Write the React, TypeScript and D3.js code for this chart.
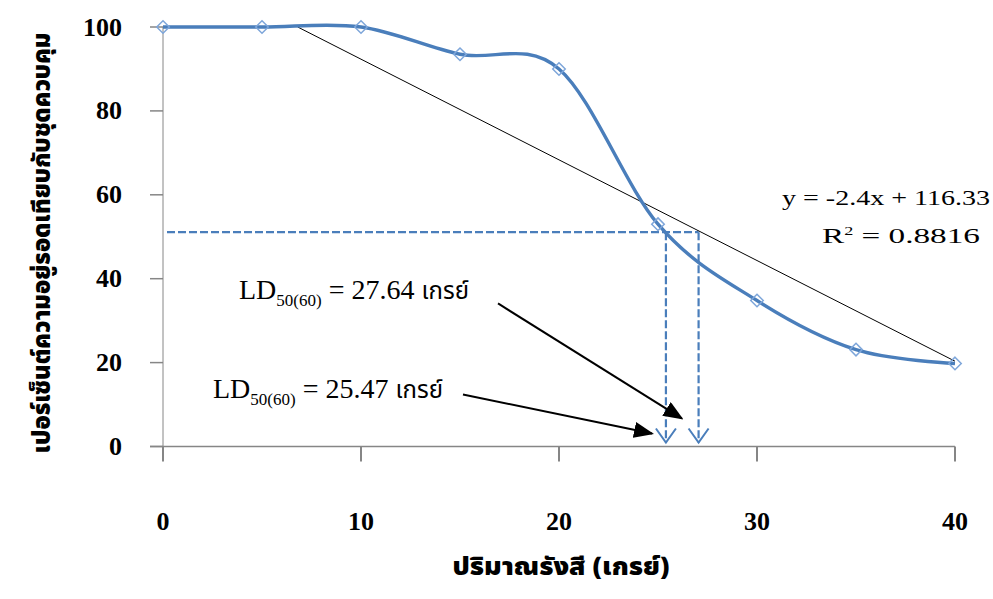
import React from "react";
import * as d3 from "d3";

const doses = [0, 5, 10, 15, 20, 25, 30, 35, 40];
const survival = [100, 100, 100, 93.5, 90, 53, 34.8, 23.1, 19.8];
const xTicks = [0, 10, 20, 30, 40];
const yTicks = [0, 20, 40, 60, 80, 100];
const trendSlope = -2.4;
const trendIntercept = 116.33;
const ld50Level = 51.1;
const ldMarks = [25.4, 27.05];
const eqText = "y = -2.4x + 116.33";
const r2Value = "0.8816";
const ldLabels = ["27.64", "25.47"];
const xTitle = "ปริมาณรังสี (เกรย์)";
const yTitle = "เปอร์เซ็นต์ความอยู่รอดเทียบกับชุดควบคุม";

const W = 993;
const H = 599;
const serif = "'Liberation Serif', 'Times New Roman', serif";
const thai = "'Noto Sans Thai', 'Noto Sans', 'DejaVu Sans', sans-serif";

export default function App() {
  const x = d3.scaleLinear().domain([0, 40]).range([163, 955]);
  const y = d3.scaleLinear().domain([0, 100]).range([446.5, 27]);
  const pts: [number, number][] = doses.map((d, i) => [d, survival[i]]);
  const line = d3
    .line<[number, number]>()
    .x((d) => x(d[0]))
    .y((d) => y(d[1]))
    .curve(d3.curveCardinal.tension(0));

  const trendX0 = (100 - trendIntercept) / trendSlope;
  const trendPts: [number, number][] = [
    [trendX0, 100],
    [40, trendSlope * 40 + trendIntercept],
  ];

  const blue = "#4A7EBB";
  const axisGray = "#868686";

  const arrows = [
    { from: [16.92, 34.1], to: [26.2, 6.7] },
    { from: [15.15, 12.4], to: [24.7, 3.1] },
  ];
  const labelPos = [
    { x: 239, y: 299 },
    { x: 213, y: 398 },
  ];

  const diamond = d3.symbol().type(d3.symbolDiamond2 || d3.symbolDiamond).size(100)();

  return (
    <svg
      width={W}
      height={H}
      style={{ position: "absolute", left: 0, top: 0, background: "#fff" }}
    >
      <defs>
        <marker
          id="blackhead"
          viewBox="0 0 10 8"
          refX="9"
          refY="4"
          markerWidth="10"
          markerHeight="8"
          markerUnits="strokeWidth"
          orient="auto"
        >
          <path d="M0,0 L10,4 L0,8 z" fill="#000" />
        </marker>
      </defs>
      <rect x={0} y={0} width={W} height={H} fill="#fff" />

      {/* axes */}
      <line x1={x(0)} x2={x(0)} y1={y(100)} y2={y(0)} stroke={axisGray} strokeWidth={1} />
      <line x1={150} x2={x(40)} y1={y(0)} y2={y(0)} stroke={axisGray} strokeWidth={1.5} />
      {yTicks.map((t) => (
        <g key={"yt" + t}>
          <line x1={150} x2={x(0)} y1={y(t)} y2={y(t)} stroke={axisGray} strokeWidth={1.5} />
          <text
            x={122}
            y={y(t)}
            dy="0.33em"
            textAnchor="end"
            fontFamily={serif}
            fontWeight="bold"
            fontSize={26}
            fill="#000"
          >
            {t}
          </text>
        </g>
      ))}
      {xTicks.map((t) => (
        <g key={"xt" + t}>
          <line x1={x(t)} x2={x(t)} y1={y(0)} y2={y(0) + 15} stroke={axisGray} strokeWidth={2} />
          <text
            x={x(t)}
            y={530}
            textAnchor="middle"
            fontFamily={serif}
            fontWeight="bold"
            fontSize={26}
            fill="#000"
          >
            {t}
          </text>
        </g>
      ))}

      {/* dashed guide lines */}
      <line
        x1={x(0) + 4}
        x2={x(ldMarks[1])}
        y1={y(ld50Level)}
        y2={y(ld50Level)}
        stroke={blue}
        strokeWidth={2.2}
        strokeDasharray="8 3"
      />
      {ldMarks.map((m) => (
        <g key={"ld" + m}>
          <line
            x1={x(m)}
            x2={x(m)}
            y1={y(ld50Level)}
            y2={y(0) - 4}
            stroke={blue}
            strokeWidth={2.2}
            strokeDasharray="8 3"
          />
          <path
            d={`M${x(m) - 10},${y(0) - 18} L${x(m)},${y(0) - 4} L${x(m) + 10},${y(0) - 18}`}
            fill="none"
            stroke={blue}
            strokeWidth={2}
          />
        </g>
      ))}

      {/* trend line */}
      <line
        x1={x(trendPts[0][0])}
        y1={y(trendPts[0][1])}
        x2={x(trendPts[1][0])}
        y2={y(trendPts[1][1])}
        stroke="#000"
        strokeWidth={1}
      />

      {/* smoothed series */}
      <path d={line(pts) || ""} fill="none" stroke={blue} strokeWidth={3.4} />
      {pts.map((p, i) => (
        <path
          key={"m" + i}
          d={diamond || ""}
          transform={`translate(${x(p[0])},${y(p[1])})`}
          fill="none"
          stroke="#7EA6DA"
          strokeWidth={1.5}
        />
      ))}

      {/* equation */}
      <text x={782} y={205} fontFamily={serif} fontSize={22} textLength={208} lengthAdjust="spacingAndGlyphs" fill="#000">
        {eqText}
      </text>
      <text x={822} y={243} fontFamily={serif} fontSize={22} fill="#000" textLength={158} lengthAdjust="spacingAndGlyphs">
        R<tspan fontSize={12} dy={-8}>2</tspan>
        <tspan dy={8}>{" = " + r2Value}</tspan>
      </text>

      {/* LD50 labels */}
      {ldLabels.map((v, i) => (
        <text
          key={"lbl" + i}
          x={labelPos[i].x}
          y={labelPos[i].y}
          fontFamily={serif}
          fontSize={28}
          fill="#000"
        >
          LD
          <tspan fontSize={17} dy={7}>50(60)</tspan>
          <tspan dy={-7}>{" = " + v + " "}</tspan>
          <tspan fontFamily={thai} fontSize={24}>เกรย์</tspan>
        </text>
      ))}
      {arrows.map((a, i) => (
        <line
          key={"ar" + i}
          x1={x(a.from[0])}
          y1={y(a.from[1])}
          x2={x(a.to[0])}
          y2={y(a.to[1])}
          stroke="#000"
          strokeWidth={2}
          markerEnd="url(#blackhead)"
        />
      ))}

      {/* axis titles */}
      <text
        x={561}
        y={575}
        textAnchor="middle"
        fontFamily={thai}
        fontWeight="900"
        fontSize={24}
        textLength={217}
        lengthAdjust="spacingAndGlyphs"
        fill="#000"
      >
        {xTitle}
      </text>
      <text
        transform="translate(50,243) rotate(-90)"
        textAnchor="middle"
        fontFamily={thai}
        fontWeight="900"
        fontSize={24}
        textLength={421}
        lengthAdjust="spacingAndGlyphs"
        fill="#000"
      >
        {yTitle}
      </text>
    </svg>
  );
}
